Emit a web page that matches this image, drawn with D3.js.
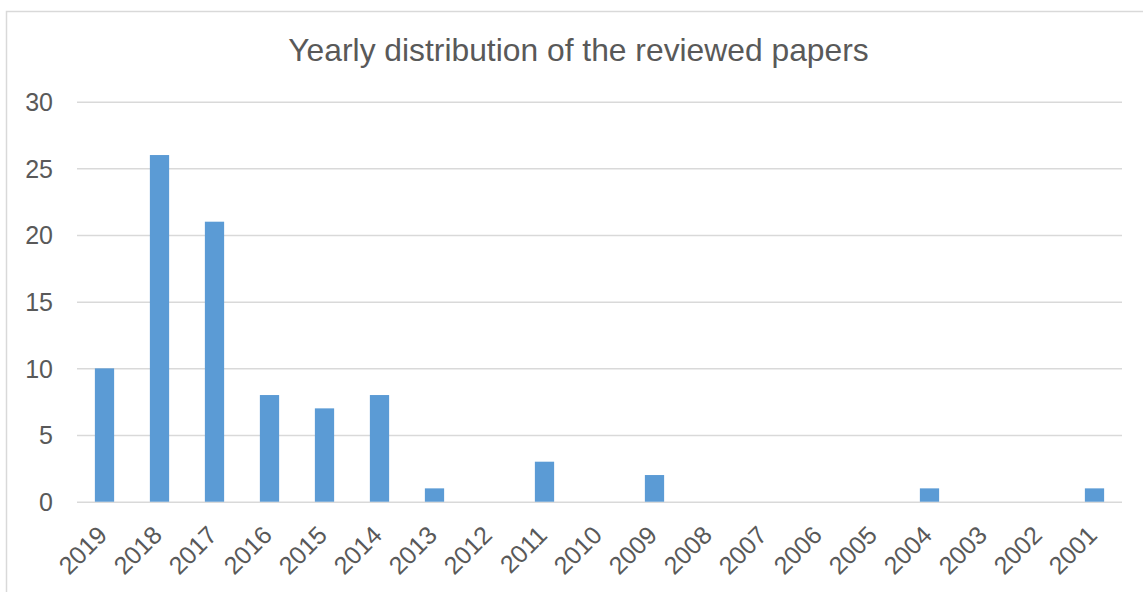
<!DOCTYPE html>
<html>
<head>
<meta charset="utf-8">
<script src="https://cdn.jsdelivr.net/npm/d3@7"></script>
<style>
  body { margin: 0; background: #fff; }
  text { font-family: "Liberation Sans", Arial, sans-serif; fill: #595959; }
</style>
</head>
<body>
<div class="svg"></div>
<script>
const years = ["2019","2018","2017","2016","2015","2014","2013","2012","2011","2010",
               "2009","2008","2007","2006","2005","2004","2003","2002","2001"];
const papers = [10, 26, 21, 8, 7, 8, 1, 0, 3, 0, 2, 0, 0, 0, 0, 1, 0, 0, 1];
const yTicks = [0, 5, 10, 15, 20, 25, 30];
const title = "Yearly distribution of the reviewed papers";

const width = 1143, height = 592;
const plotLeft = 77, plotRight = 1122, plotTop = 101.7, plotBottom = 501.7;

let svg = d3.select('.svg').append('svg').attr('width', width).attr('height', height);

// chart frame (runs off the right/bottom edge like the screenshot)
svg.append('rect')
  .attr('x', 6.5).attr('y', 11.5)
  .attr('width', width + 10).attr('height', height + 10)
  .attr('fill', 'none').attr('stroke', '#d9d9d9').attr('stroke-width', 1.5);

let scaleX = d3.scaleBand()
  .domain(years)
  .range([plotLeft, plotRight])
  .paddingInner(0.65)
  .paddingOuter(0.325);

let scaleY = d3.scaleLinear()
  .domain([0, 30])
  .range([plotBottom, plotTop]);

// gridlines + y labels
let axisY = d3.axisLeft(scaleY)
  .tickValues(yTicks)
  .tickSize(-(plotRight - plotLeft))
  .tickPadding(24);
svg.append('g')
  .attr('transform', 'translate(' + plotLeft + ',0)')
  .call(axisY)
  .call(g => g.select('.domain').remove())
  .call(g => g.selectAll('line').attr('stroke', '#d9d9d9').attr('stroke-width', 1.5))
  .call(g => g.selectAll('text')
    .attr('fill', '#595959')
    .style('font-size', '25px')
    .attr('dy', '0.35em'));

// bars
svg.append('g').selectAll('rect')
  .data(papers)
  .enter().append('rect')
  .attr('x', (d, i) => scaleX(years[i]))
  .attr('y', d => scaleY(d))
  .attr('width', scaleX.bandwidth())
  .attr('height', d => plotBottom - scaleY(d))
  .attr('fill', '#5b9bd5');

// x labels rotated
let axisX = d3.axisBottom(scaleX).tickSize(0).tickPadding(0);
svg.append('g')
  .attr('transform', 'translate(0,' + plotBottom + ')')
  .call(axisX)
  .call(g => g.select('.domain').remove())
  .call(g => g.selectAll('text')
    .attr('fill', '#595959')
    .style('font-size', '25px')
    .attr('text-anchor', 'end')
    .attr('y', 0).attr('dy', 0)
    .attr('transform', 'translate(4,35) rotate(-45)'));

svg.append('text')
  .attr('x', 578.5)
  .attr('y', 60.5)
  .attr('text-anchor', 'middle')
  .style('font-size', '31.8px')
  .text(title);
</script>
</body>
</html>
